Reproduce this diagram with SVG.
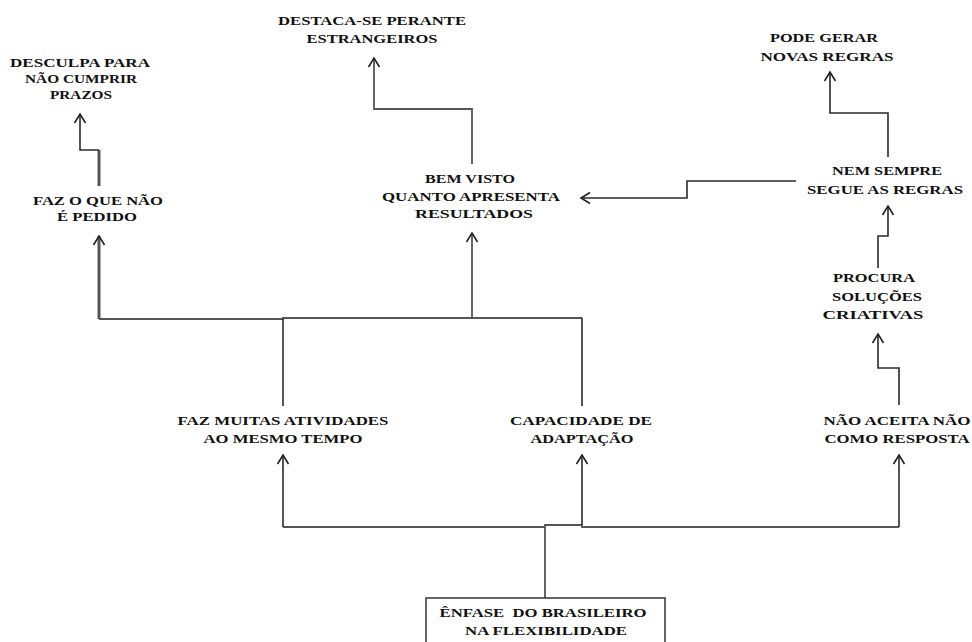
<svg xmlns="http://www.w3.org/2000/svg" width="972" height="642" viewBox="0 0 972 642">
<defs>
<style>
text{font-family:"Liberation Serif","DejaVu Serif",serif;font-weight:bold;font-size:13px;fill:#111;text-anchor:middle}
.c{fill:none;stroke:#2a2a2a;stroke-width:1.6}
.g{fill:none;stroke:#555;stroke-width:1.8}
.box{fill:#fff;stroke:#333;stroke-width:1.5}
</style>
<marker id="ah" markerUnits="userSpaceOnUse" markerWidth="20" markerHeight="20" refX="0" refY="0" viewBox="-12 -10 14 20" orient="auto">
<path d="M-9,-5.5 L0,0 L-9,5.5" fill="none" stroke="#222" stroke-width="1.6"/>
</marker>
</defs>
<rect width="972" height="642" fill="#fff"/>
<g id="connectors">
<path class="g" d="M99,186 V150" style="stroke-width:3"/>
<path class="c" d="M99,150 H80 V114" marker-end="url(#ah)"/>
<path class="g" d="M99,319 H283 V318 H582"/>
<path class="g" d="M99,319 V236" style="stroke-width:3" marker-end="url(#ah)"/>
<path class="c" d="M283,406 V319"/>
<path class="g" d="M472,319 V233" marker-end="url(#ah)"/>
<path class="c" d="M582,406 V318"/>
<path class="g" d="M472,164 V109 H374 V58" marker-end="url(#ah)"/>
<path class="c" d="M796,181 H687 V198 H581" marker-end="url(#ah)"/>
<path class="c" d="M888,157 V113 H830 V72" marker-end="url(#ah)"/>
<path class="c" d="M878,268 V236 H888 V206" marker-end="url(#ah)"/>
<path class="c" d="M899,405 V368 H878 V334" marker-end="url(#ah)"/>
<path class="g" d="M545,598 V527"/>
<path class="g" d="M283,527 H545 V525 H582 V527 H899"/>
<path class="c" d="M283,527 V455" marker-end="url(#ah)"/>
<path class="c" d="M582,525 V455" marker-end="url(#ah)"/>
<path class="c" d="M899,527 V455" marker-end="url(#ah)"/>
</g>
<g id="desculpa">
<text x="80" y="67" textLength="140" lengthAdjust="spacingAndGlyphs">DESCULPA PARA</text>
<text x="81" y="83" textLength="112" lengthAdjust="spacingAndGlyphs">NÃO CUMPRIR</text>
<text x="81" y="99" textLength="62" lengthAdjust="spacingAndGlyphs">PRAZOS</text>
</g>
<g id="faz-o-que">
<text x="98" y="205" textLength="130" lengthAdjust="spacingAndGlyphs">FAZ O QUE NÃO</text>
<text x="97" y="221" textLength="80" lengthAdjust="spacingAndGlyphs">É PEDIDO</text>
</g>
<g id="destaca">
<text x="372" y="25" textLength="188" lengthAdjust="spacingAndGlyphs">DESTACA-SE PERANTE</text>
<text x="372" y="43" textLength="131" lengthAdjust="spacingAndGlyphs">ESTRANGEIROS</text>
</g>
<g id="bem-visto">
<text x="470" y="183" textLength="90" lengthAdjust="spacingAndGlyphs">BEM VISTO</text>
<text x="471" y="201" textLength="178" lengthAdjust="spacingAndGlyphs">QUANTO APRESENTA</text>
<text x="474" y="218" textLength="118" lengthAdjust="spacingAndGlyphs">RESULTADOS</text>
</g>
<g id="pode-gerar">
<text x="824" y="42" textLength="108" lengthAdjust="spacingAndGlyphs">PODE GERAR</text>
<text x="827" y="61" textLength="133" lengthAdjust="spacingAndGlyphs">NOVAS REGRAS</text>
</g>
<g id="nem-sempre">
<text x="887" y="175" textLength="110" lengthAdjust="spacingAndGlyphs">NEM SEMPRE</text>
<text x="885" y="194" textLength="156" lengthAdjust="spacingAndGlyphs">SEGUE AS REGRAS</text>
</g>
<g id="procura">
<text x="874" y="282" textLength="82" lengthAdjust="spacingAndGlyphs">PROCURA</text>
<text x="877" y="301" textLength="90" lengthAdjust="spacingAndGlyphs">SOLUÇÕES</text>
<text x="873" y="319" textLength="101" lengthAdjust="spacingAndGlyphs">CRIATIVAS</text>
</g>
<g id="faz-muitas">
<text x="283" y="425" textLength="211" lengthAdjust="spacingAndGlyphs">FAZ MUITAS ATIVIDADES</text>
<text x="283" y="443" textLength="159" lengthAdjust="spacingAndGlyphs">AO MESMO TEMPO</text>
</g>
<g id="capacidade">
<text x="581" y="425" textLength="142" lengthAdjust="spacingAndGlyphs">CAPACIDADE DE</text>
<text x="582" y="443" textLength="103" lengthAdjust="spacingAndGlyphs">ADAPTAÇÃO</text>
</g>
<g id="nao-aceita">
<text x="897" y="425" textLength="147" lengthAdjust="spacingAndGlyphs">NÃO ACEITA NÃO</text>
<text x="897" y="443" textLength="145" lengthAdjust="spacingAndGlyphs">COMO RESPOSTA</text>
</g>
<g id="enfase">
<rect class="box" x="426" y="598" width="239" height="60"/>
<text x="543" y="617" textLength="207" lengthAdjust="spacingAndGlyphs" xml:space="preserve">ÊNFASE  DO BRASILEIRO</text>
<text x="546" y="635" textLength="162" lengthAdjust="spacingAndGlyphs">NA FLEXIBILIDADE</text>
</g>
</svg>
